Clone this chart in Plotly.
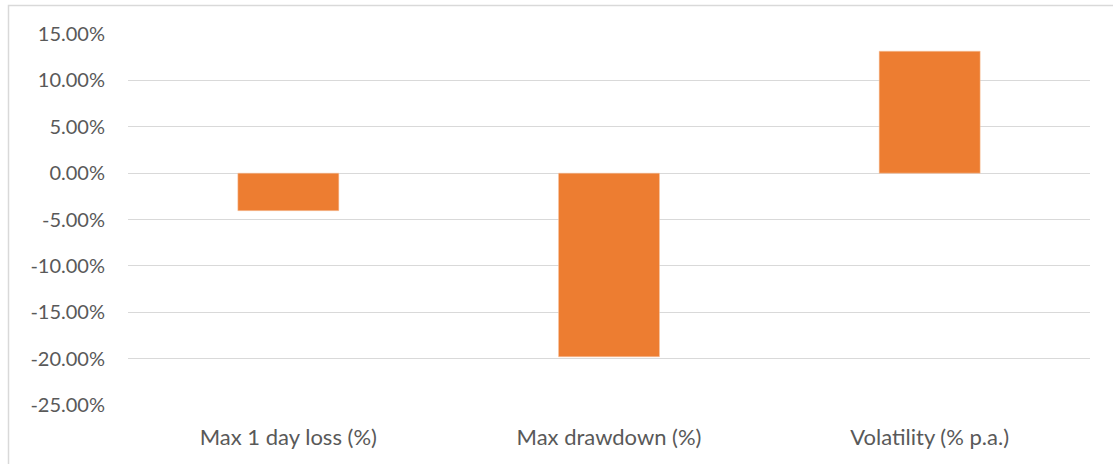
import plotly.graph_objects as go

categories = ["Max 1 day loss (%)", "Max drawdown (%)", "Volatility (% p.a.)"]
values = [-0.0405, -0.198, 0.1315]
tick_vals = [-0.25, -0.20, -0.15, -0.10, -0.05, 0.0, 0.05, 0.10, 0.15]
tick_text = [f"{v * 100:.2f}%" for v in tick_vals]

W, H = 1113, 464
L, R, T, B = 128, 23, 34, 59
pw, ph = W - L - R, H - T - B

fig = go.Figure(go.Bar(
    x=categories, y=values,
    marker=dict(color="#ED7D31", line=dict(color="#F8C9A8", width=0.5)),
))

fig.update_layout(
    width=W, height=H,
    margin=dict(l=L, r=R, t=T, b=B),
    paper_bgcolor="white", plot_bgcolor="white",
    font=dict(family="Lato", size=20, color="#595959"),
    bargap=0.685,
    showlegend=False,
    shapes=[dict(
        type="rect", xref="paper", yref="paper",
        x0=(8.5 - L) / pw, x1=(W + 10 - L) / pw,
        y0=(T + ph - (H + 10)) / ph, y1=(T + ph - 5.5) / ph,
        line=dict(color="#d9d9d9", width=1.5), fillcolor="rgba(0,0,0,0)", layer="below",
    )],
)
fig.update_yaxes(
    range=[-0.25, 0.15], tickvals=tick_vals, ticktext=tick_text,
    tickfont=dict(size=20),
    showgrid=True, gridcolor="#d9d9d9", gridwidth=1.3,
    zeroline=True, zerolinecolor="#d9d9d9", zerolinewidth=1.3,
    showline=False, ticks="", ticklabelstandoff=22,
)
fig.update_xaxes(
    tickfont=dict(size=22),
    showgrid=False, showline=False, ticks="", ticklabelstandoff=17,
)

fig.write_html("out.html")
